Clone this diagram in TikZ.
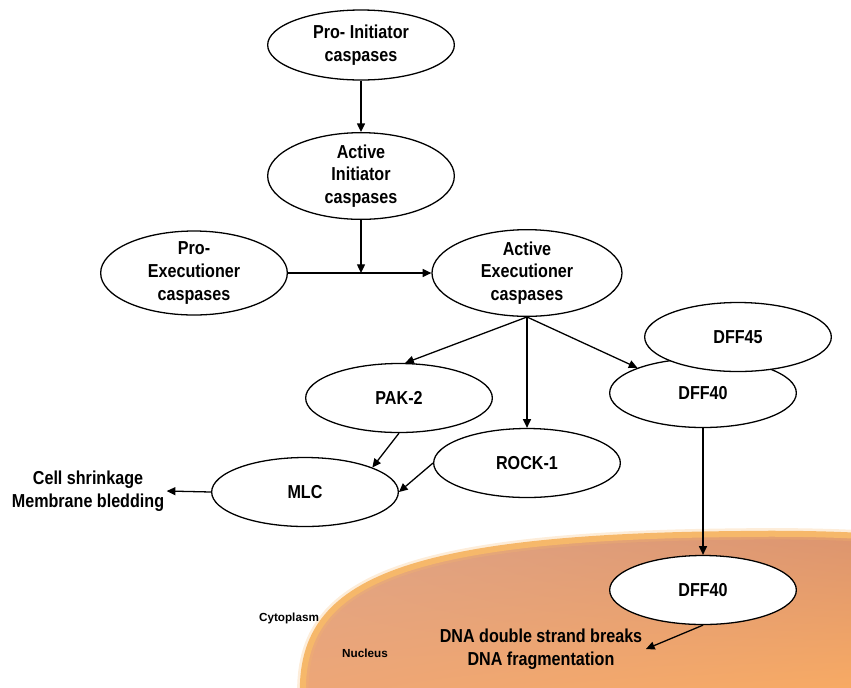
\documentclass[tikz,border=0pt]{standalone}
\usepackage{fontspec}
\setmainfont{Liberation Sans}[FakeStretch=0.86]
\newfontfamily\smallfnt{Liberation Sans}
\usetikzlibrary{shapes.geometric,arrows.meta,shadings}
\definecolor{nucA}{RGB}{222,164,136}
\definecolor{nucB}{RGB}{220,148,110}
\definecolor{nucC}{RGB}{238,166,118}
\definecolor{nucD}{RGB}{250,172,98}
\definecolor{nucrim}{RGB}{246,184,106}
\begin{document}
\begin{tikzpicture}[x=0.3mm,y=-0.3mm,
  every node/.style={font=\bfseries\fontsize{16}{19.5}\selectfont},
  ell/.style={ellipse,draw,fill=white,line width=1.1pt,inner sep=0pt,
    minimum width=56mm,minimum height=20.7mm},
  casp/.style={ell,align=center,minimum height=26mm,inner ysep=-2pt},
  txt/.style={align=center,inner sep=2pt},
  tiny/.style={font=\smallfnt\bfseries\fontsize{10}{12}\selectfont,inner sep=1pt},
  arr/.style={-{Triangle[length=2.6mm,width=2.4mm]},line width=1.1pt}]
  \useasboundingbox (0,0) rectangle (851,687);
  \begin{scope}
    \clip (0,0) rectangle (851,687);
    \shade[upper left=nucA,upper right=nucB,lower left=nucC,lower right=nucD]
      (303,700) .. controls (298,590) and (380,537) .. (740,534)
      .. controls (800,533) and (851,535) .. (880,537) -- (880,700) -- cycle;
    \draw[nucrim,line width=3.4mm,opacity=.25]
      (303,700) .. controls (298,590) and (380,537) .. (740,534)
      .. controls (800,533) and (851,535) .. (880,537);
    \draw[nucrim,line width=1.8mm]
      (303,700) .. controls (298,590) and (380,537) .. (740,534)
      .. controls (800,533) and (851,535) .. (880,537);
  \end{scope}
  \node[casp,minimum height=21mm] (proinit) at (361,45) {Pro- Initiator\\caspases};
  \node[casp] (actinit) at (361,176) {Active\\Initiator\\caspases};
  \node[casp,minimum height=25.2mm] (proexec) at (194,273) {Pro-\\Executioner\\caspases};
  \node[casp,minimum width=57mm] (actexec) at (527,273) {Active\\Executioner\\caspases};
  \node[ell] (dff40) at (703,393) {DFF40};
  \node[ell] (dff45) at (738,337) {DFF45};
  \node[ell] (pak) at (399,398) {PAK-2};
  \node[ell] (rock) at (527,463) {ROCK-1};
  \node[ell] (mlc) at (305,492) {MLC};
  \node[ell] (dffn) at (703,590) {DFF40};
  \node[txt] (cell) at (88,491) {Cell shrinkage\\Membrane bledding};
  \node[txt,inner xsep=3pt] (dna) at (541,649) {DNA double strand breaks\\DNA fragmentation};
  \node[tiny] (cyto) at (289,618) {Cytoplasm};
  \node[tiny] (nuc) at (365,653) {Nucleus};
  \coordinate (jn) at (actinit.south |- actexec.west);
  \draw[arr] (proinit) -- (actinit);
  \draw[arr] (actinit.south) -- (jn);
  \draw[arr] (proexec.east) -- (actexec.west);
  \draw[arr] (actexec.south) -- (pak.80);
  \draw[arr] (actexec.south) -- (rock.north);
  \draw[arr] (actexec.south) -- (dff40.159);
  \draw[arr] (pak.south) -- (mlc.20);
  \draw[arr] (rock.west) -- (mlc.east);
  \draw[arr] (mlc.west) -- (cell.east);
  \draw[arr] (dff40.south) -- (dffn.north);
  \draw[arr] (dffn.south) -- (dna.east);
\end{tikzpicture}
\end{document}
